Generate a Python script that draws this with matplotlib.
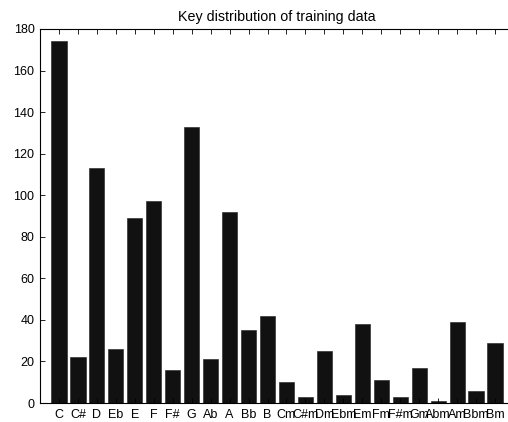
import matplotlib
matplotlib.use("Agg")
import matplotlib.pyplot as plt

keys = ["C", "C#", "D", "Eb", "E", "F", "F#", "G", "Ab", "A", "Bb", "B",
        "Cm", "C#m", "Dm", "Ebm", "Em", "Fm", "F#m", "Gm", "Abm", "Am", "Bbm", "Bm"]
counts = [174, 22, 113, 26, 89, 97, 16, 133, 21, 92, 35, 42,
          10, 3, 25, 4, 38, 11, 3, 17, 1, 39, 6, 29]
yticks = [0, 20, 40, 60, 80, 100, 120, 140, 160, 180]

plt.rcParams['font.family'] = ['Liberation Sans', 'DejaVu Sans']
fig = plt.figure(figsize=(5.08, 4.22), dpi=100)
ax = fig.add_axes([40/508, 19/422, 474/508, 374/422])
pos = list(range(1, len(keys) + 1))
ax.bar(pos, counts, width=0.8, color='#111111', edgecolor='#333333', linewidth=0.5, zorder=1)
ax.set_xlim(0, 25)
ax.set_ylim(0, 180)
ax.set_xticks(pos)
ax.set_xticklabels(keys, fontsize=9)
ax.set_yticks(yticks)
ax.set_yticklabels([str(v) for v in yticks], fontsize=9)
ax.tick_params(direction='in', length=3.5, width=0.6, top=True, right=True, pad=4)
for s in ax.spines.values():
    s.set_linewidth(0.8)
ax.set_title("Key distribution of training data", fontsize=10.3, pad=6)
fig.savefig("out.png", dpi=100)
